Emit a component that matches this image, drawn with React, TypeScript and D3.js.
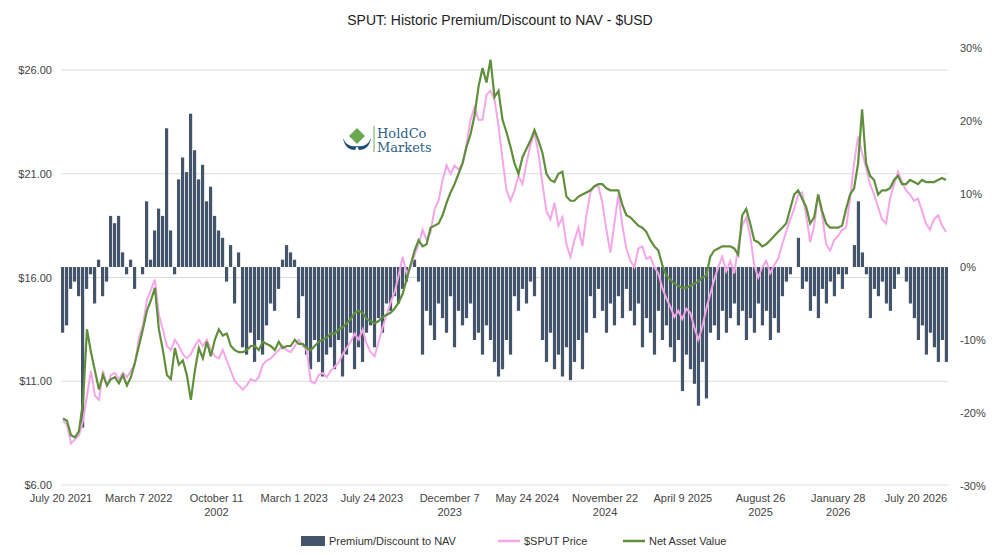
import React from "react";
import * as d3 from "d3";

const xLabels = [
  ["July 20 2021"], ["March 7 2022"], ["October 11", "2002"], ["March 1 2023"], ["July 24 2023"],
  ["December 7", "2023"], ["May 24 2024"], ["November 22", "2024"], ["April 9 2025"], ["August 26", "2025"],
  ["January 28", "2026"], ["July 20 2026"],
];
const leftTicks = [6, 11, 16, 21, 26];
const rightTicks = [-30, -20, -10, 0, 10, 20, 30];

const premium = [
  -9, -8, -3, -2, -4, -22, -3, -1, -5, 1,
  -4, -2, 7, 6, 7, 2, -1, 1, -3, 0,
  -1, 9, 1, 5, 8, 7, 19, 5, -1, 12,
  15, 13, 21, 16, 12, 14, 9, 11, 7, 5,
  4, -2, 3, -5, 2, -11, -12, -9, -13, -10,
  -12, -8, -5, -6, -3, 1, 3, 2, 1, -7,
  -4, -12, -14, -10, -13, -15, -12, -11, -14, -10,
  -15, -12, -9, -14, -11, -13, -9, -8, -11, -7,
  -9, -5, -6, -4, -5, -3, -2, 0, 1, -2,
  -12, -6, -8, -10, -5, -7, -9, -4, -11, -6,
  -8, -7, -5, -10, -9, -12, -8, -10, -13, -15,
  -14, -10, -12, -4, -6, -3, -5, -2, -4, 0,
  -10, -13, -9, -14, -12, -15, -11, -15.5, -13, -10,
  -14, -9, -4, -7, -3, -6, -9, -5, -8, -4,
  -7, -3, -6, -8, -5, -11, -7, -9, -12, -6,
  -10, -8, -11, -13, -10, -17, -12, -14, -16, -19,
  -13, -18, -9, -8, -10, -6, -9, -7, -5, -8,
  -6, -10, -7, -9, -5, -8, -6, -10, -7, -9,
  -4, -2, -1, 0, 4, -3, -2, -6, -4, -7,
  -3, -5, -2, -4, -1, -3, -1, 0, 3, 9,
  2, -1, -7, -3, -4, -2, -5, -6, -3, -1,
  0, -2, -5, -7, -10, -8, -12, -9, -11, -13, -10, -13,
];

const price = [
  9.1, 8.9, 8.0, 8.2, 8.4, 9.1, 10.3, 11.5, 10.3, 10.1, 11.5, 10.8, 11.3, 11.4, 11.1, 11.4, 11.2, 11.5, 11.8, 13.1,
  13.7, 14.9, 15.4, 15.9, 14.2, 13.5, 12.7, 12.5, 13.0, 12.7, 12.3, 12.1, 12.3, 12.7, 13.0, 12.7, 13.0, 12.5, 12.2, 12.1,
  12.5, 12.0, 11.5, 11.0, 10.8, 10.6, 10.8, 11.1, 11.0, 11.2, 11.8, 12.0, 12.1, 12.3, 12.5, 12.7, 12.5, 12.4, 12.7, 13.0,
  12.7, 12.5, 11.0, 10.9, 11.3, 11.4, 11.2, 11.5, 11.7, 11.9, 12.3, 12.6, 12.9, 13.3, 13.0, 13.5, 12.8, 12.4, 12.2, 12.9,
  13.6, 14.2, 14.8, 15.3, 16.1, 17.0, 16.2, 16.5, 17.1, 17.6, 18.3, 17.8, 18.2, 19.3, 19.7, 20.7, 21.4, 21.0, 21.4, 21.2,
  21.5, 22.4, 23.6, 24.2, 23.6, 23.6, 24.8, 25.0, 24.6, 23.3, 21.7, 20.2, 19.7, 20.2, 20.9, 20.5, 21.5, 22.4,
  23.0, 22.0, 20.5, 19.2, 18.8, 19.6, 18.5, 18.9, 17.6, 17.0, 17.8, 18.4, 17.5, 19.0, 20.1, 20.4, 20.4, 19.6, 18.3, 17.2,
  18.6, 20.0, 18.5, 17.4, 16.8, 16.5, 17.4, 17.5, 16.9, 17.0, 16.5, 16.2, 15.5, 15.0, 14.6, 14.1, 14.4, 14.0, 14.5, 14.3,
  13.6, 13.0, 13.6, 14.5, 15.2, 15.9, 16.5, 17.0, 16.3, 16.8, 16.2, 17.5, 18.5, 18.9, 18.0, 16.6, 16.0, 16.5, 16.8, 16.2,
  16.6, 16.9, 17.6, 18.2, 18.8, 19.3, 20.0, 20.1, 19.0, 17.7, 18.5, 20.0, 19.0, 17.6, 17.3, 17.8, 18.0, 18.3, 18.4, 19.8,
  21.5, 22.8, 22.0, 21.3, 20.5, 20.0, 19.4, 18.8, 18.6, 19.8, 20.5, 21.1, 20.6, 20.2, 20.0, 19.7, 19.8, 19.2, 18.6, 18.3,
  18.8, 19.0, 18.5, 18.2,
];

const nav = [
  9.2, 9.1, 8.4, 8.3, 8.6, 10.0, 13.5, 12.4, 11.5, 10.6, 11.3, 10.8, 11.1, 11.2, 10.9, 11.3, 10.8, 11.2, 11.9, 12.7,
  13.5, 14.4, 14.9, 15.5, 13.5, 12.5, 11.3, 11.1, 12.6, 11.8, 12.0, 11.3, 10.1, 11.5, 12.6, 12.1, 12.9, 12.2, 13.0, 13.5,
  13.2, 13.3, 12.7, 12.5, 12.4, 12.4, 12.5, 12.7, 12.7, 12.5, 12.9, 12.8, 12.7, 12.5, 12.9, 12.6, 12.7, 12.7, 13.0, 12.8,
  12.8, 12.6, 12.5, 12.7, 12.9, 13.0, 13.1, 13.3, 13.3, 13.5, 13.6, 13.8, 14.0, 14.3, 14.4, 14.3, 14.0, 13.9, 13.8, 13.9,
  14.1, 14.2, 14.3, 14.5, 14.8, 15.2, 15.9, 16.6, 17.3, 17.8, 17.5, 17.6, 18.4, 18.5, 18.6, 19.0, 19.6, 20.1, 20.5, 21.0,
  21.5, 22.3, 22.9, 23.8, 25.2, 26.1, 25.4, 26.5, 24.7, 25.0, 23.6, 23.0, 22.3, 21.5, 21.0, 21.8, 22.2, 22.6, 23.1, 22.6,
  22.0, 21.0, 20.7, 20.6, 21.0, 21.1,
  19.9, 19.7, 19.7, 19.9, 20.0, 20.1, 20.2, 20.4, 20.5, 20.5, 20.3, 20.2, 20.2, 20.2, 19.5,
  19.0, 18.9, 18.7, 18.5, 18.4, 18.2, 17.8, 17.5, 17.3, 16.6, 16.1, 15.9, 15.7, 15.6, 15.5,
  15.5, 15.6, 15.7, 15.8, 16.0, 16.1, 17.0, 17.3, 17.4, 17.5, 17.5, 17.5, 17.4, 17.1, 19.0,
  19.3, 18.6, 17.8, 17.7, 17.5, 17.6, 17.8, 18.0, 18.2, 18.4, 18.6, 19.3, 20.0, 20.2, 19.8,
  19.4, 18.6, 18.9, 20.0, 19.2, 18.6, 18.4, 18.4, 18.4, 18.5, 19.3, 20.0, 20.3, 21.5, 24.1,
  21.5,
  20.9, 20.7, 20.0, 20.2, 20.2, 20.3, 20.7, 20.9, 20.5, 20.5, 20.7, 20.6, 20.5, 20.7, 20.6, 20.6, 20.6, 20.7, 20.8, 20.7,
];

const W = 1000, H = 555;
const X0 = 61, X1 = 948;
const FONT = "'Liberation Sans', Arial, sans-serif";

export default function App() {
  const yL = d3.scaleLinear().domain([6, 26]).range([485, 70]);
  const yR = d3.scaleLinear().domain([-30, 30]).range([486, 48]);
  const xb = d3.scaleBand<number>().domain(d3.range(premium.length)).range([X0, X1]).paddingInner(0.2);
  const xl = (n: number) => d3.scaleLinear().domain([0, n - 1]).range([X0 + 2, X1 - 2]);
  const xp = xl(price.length), xn = xl(nav.length);
  const priceLine = d3.line<number>().x((_, i) => xp(i)).y((d) => yL(d))(price) || "";
  const navLine = d3.line<number>().x((_, i) => xn(i)).y((d) => yL(d))(nav) || "";
  const xLab = d3.scalePoint<number>().domain(d3.range(xLabels.length)).range([61, 916]);
  const money = d3.format("$,.2f");

  return (
    <svg width={W} height={H} style={{ display: "block", position: "absolute", left: 0, top: 0 }} fontFamily={FONT}>
      <rect width={W} height={H} fill="#fff" />
      <text x={500} y={25} textAnchor="middle" fontSize={14} fill="#222">SPUT: Historic Premium/Discount to NAV - $USD</text>
      {leftTicks.map((t) => (
        <g key={t}>
          <line x1={X0} x2={X1} y1={yL(t)} y2={yL(t)} stroke="#dcdcdc" strokeWidth={1} />
          <text x={52} y={yL(t) + 4} textAnchor="end" fontSize={11} fill="#444">{money(t)}</text>
        </g>
      ))}
      {rightTicks.map((t) => (
        <text key={t} x={960} y={yR(t) + 4} fontSize={11} fill="#444">{t}%</text>
      ))}
      {premium.map((v, i) => (
        <rect key={i} x={xb(i)} width={xb.bandwidth()} y={Math.min(yR(v), yR(0))}
          height={Math.abs(yR(v) - yR(0))} fill="#44546a" />
      ))}
      <path d={priceLine} fill="none" stroke="#f4a6e8" strokeWidth={2} />
      <path d={navLine} fill="none" stroke="#5f8f3a" strokeWidth={2.2} />
      {xLabels.map((lab, i) => (
        <text key={i} x={xLab(i)} y={502} textAnchor="middle" fontSize={11} fill="#444">
          {lab.map((s, j) => <tspan key={j} x={xLab(i)} dy={j === 0 ? 0 : 14}>{s}</tspan>)}
        </text>
      ))}
      <g transform="translate(343,128)">
        <path d="M0,10 Q4,20 14,18 L12,22 Q2,22 0,10 Z" fill="#1f4e79" />
        <path d="M28,10 Q24,20 14,18 L16,22 Q26,22 28,10 Z" fill="#1f4e79" />
        <path d="M14,0 L22,8 L14,16 L6,8 Z" fill="#6aa84f" />
        <line x1={31} x2={31} y1={-2} y2={24} stroke="#6aa84f" strokeWidth={1} />
        <text x={34} y={10} fontSize={13} fill="#2e5f86" fontFamily="'DejaVu Serif', serif">HoldCo</text>
        <text x={34} y={24} fontSize={13} fill="#2e5f86" fontFamily="'DejaVu Serif', serif">Markets</text>
      </g>
      <rect x={301} y={536} width={24} height={10} fill="#44546a" />
      <text x={329} y={545} fontSize={11} fill="#333">Premium/Discount to NAV</text>
      <line x1={498} x2={520} y1={541} y2={541} stroke="#f4a6e8" strokeWidth={2.5} />
      <text x={524} y={545} fontSize={11} fill="#333">$SPUT Price</text>
      <line x1={623} x2={645} y1={541} y2={541} stroke="#5f8f3a" strokeWidth={2.5} />
      <text x={649} y={545} fontSize={11} fill="#333">Net Asset Value</text>
    </svg>
  );
}
